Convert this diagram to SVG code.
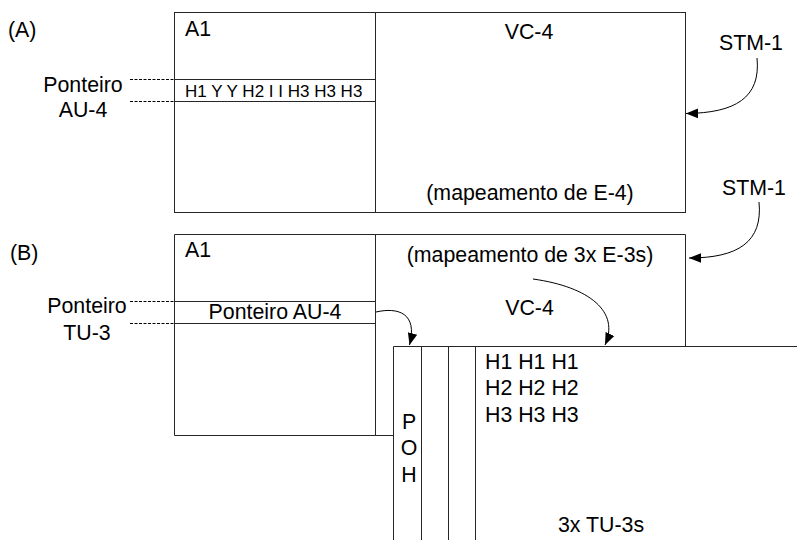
<svg xmlns="http://www.w3.org/2000/svg" width="797" height="540" viewBox="0 0 797 540">
<defs>
<style>
text{font-family:"Liberation Sans",Arial,sans-serif;font-size:21.33px;fill:#000}
.sm{font-size:17px}
.mid{text-anchor:middle}
.ln{fill:none;stroke:#262626;stroke-width:1}
.dash{fill:none;stroke:#000;stroke-width:1;stroke-dasharray:3,1.5}
.conn{fill:none;stroke:#000;stroke-width:1}
</style>
<marker id="ah" viewBox="0 0 10 10" refX="10" refY="5" markerWidth="12" markerHeight="12" markerUnits="userSpaceOnUse" orient="auto">
<path d="M0,1 L10,5 L0,9 z" fill="#000"/>
</marker>
</defs>
<rect width="797" height="540" fill="#fff"/>

<g id="frameA">
<text x="8" y="37">(A)</text>
<rect class="ln" x="174.5" y="12.5" width="511" height="200"/>
<line class="ln" x1="375.5" y1="12.5" x2="375.5" y2="212.5"/>
<text x="185" y="36">A1</text>
<text class="mid" x="529" y="39">VC-4</text>
<text class="mid" x="530" y="200">(mapeamento de E-4)</text>
</g>

<g id="pointerRowA">
<rect class="ln" x="174.5" y="79.5" width="201" height="22"/>
<text class="sm" x="185" y="96.5">H1 Y Y H2 I I H3 H3 H3</text>
</g>

<g id="labelPonteiroAU4">
<text class="mid" x="83" y="92">Ponteiro</text>
<text class="mid" x="83" y="117">AU-4</text>
<line class="dash" x1="130" y1="79.5" x2="174.5" y2="79.5"/>
<line class="dash" x1="130" y1="101.5" x2="174.5" y2="101.5"/>
</g>

<g id="stm1A">
<text class="mid" x="751" y="50">STM-1</text>
</g>

<g id="frameB">
<text x="10" y="260">(B)</text>
<path class="ln" d="M685.5,346 L685.5,234.5 L174.5,234.5 L174.5,435.5 L393.5,435.5"/>
<line class="ln" x1="375.5" y1="234.5" x2="375.5" y2="435.5"/>
<text x="185" y="257">A1</text>
<text class="mid" x="530" y="262">(mapeamento de 3x E-3s)</text>
<text class="mid" x="529.5" y="315">VC-4</text>
</g>

<g id="pointerRowB">
<rect class="ln" x="174.5" y="301.5" width="201" height="22"/>
<text class="mid" x="275" y="318.5">Ponteiro AU-4</text>
</g>

<g id="labelPonteiroTU3">
<text class="mid" x="87" y="313">Ponteiro</text>
<text class="mid" x="87" y="339.5">TU-3</text>
<line class="dash" x1="130" y1="301.5" x2="174.5" y2="301.5"/>
<line class="dash" x1="130" y1="323.5" x2="174.5" y2="323.5"/>
</g>

<g id="tu3Frame">
<path class="ln" d="M393.5,540 L393.5,346.5 L797,346.5"/>
<line class="ln" x1="421.5" y1="346.5" x2="421.5" y2="540"/>
<line class="ln" x1="448.5" y1="346.5" x2="448.5" y2="540"/>
<line class="ln" x1="475.5" y1="346.5" x2="475.5" y2="540"/>
<text class="mid" x="409" y="428.5">P</text>
<text class="mid" x="409" y="455">O</text>
<text class="mid" x="409" y="481.5">H</text>
<text x="485" y="368.5">H1 H1 H1</text>
<text x="485" y="395">H2 H2 H2</text>
<text x="485" y="421.5">H3 H3 H3</text>
<text class="mid" x="601" y="531.5">3x TU-3s</text>
</g>

<g id="stm1B">
<text class="mid" x="754" y="195">STM-1</text>
</g>

<g id="connectors">
<path class="conn" marker-end="url(#ah)" d="M757,58 C761,98 735,113 686,113.5"/>
<path class="conn" marker-end="url(#ah)" d="M759,202 C763,242 738,258 689,258"/>
<path class="conn" marker-end="url(#ah)" d="M376,312 C398,307 418,313 409.5,345"/>
<path class="conn" marker-end="url(#ah)" d="M533,279 C590,287 620,312 605,345"/>
</g>
</svg>
